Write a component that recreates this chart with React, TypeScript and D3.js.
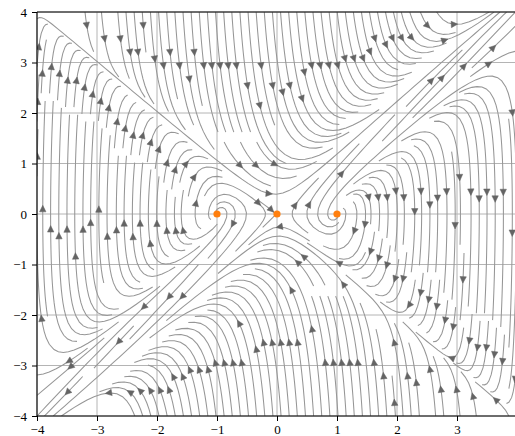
import { useEffect, useRef } from 'react';
import * as d3 from 'd3';

// axis ranges and ticks
const xDomain = [-4, 4];
const yDomain = [-4, 4];
const xTickValues = [-4, -3, -2, -1, 0, 1, 2, 3];
const xTickLabels = ['−4', '−3', '−2', '−1', '0', '1', '2', '3'];
const yTickValues = [-4, -3, -2, -1, 0, 1, 2, 3, 4];
const yTickLabels = ['−4', '−3', '−2', '−1', '0', '1', '2', '3', '4'];

// equilibria of the system
const fixedX = [-1, 0, 1];
const fixedY = [0, 0, 0];

// vector field as polynomial terms: [coefficient, power of x, power of y]
const dxTerms = [[1, 0, 1]];
const dyTerms = [[1, 1, 0], [-1, 3, 0], [0.25, 0, 1], [1, 2, 1], [1, 1, 2], [-1, 0, 3]];

const density = 2;
const gridSize = 100;
const minLength = 0.1;
const maxLength = 4.0;

const W = 515;
const H = 436;

const evalTerms = (terms: number[][], x: number, y: number) =>
  terms.reduce((acc, [c, px, py]) => acc + c * x ** px * y ** py, 0);

type Pt = [number, number];
interface Stream {
  pts: Pt[];
  tail: Pt;
  head: Pt;
}

// port of matplotlib's streamplot integration
function computeStreams(): Stream[] {
  const nx = gridSize;
  const ny = gridSize;
  const gx = d3.range(nx).map((i) => xDomain[0] + ((xDomain[1] - xDomain[0]) * i) / (nx - 1));
  const gy = d3.range(ny).map((j) => yDomain[0] + ((yDomain[1] - yDomain[0]) * j) / (ny - 1));
  const dxg = gx[1] - gx[0];
  const dyg = gy[1] - gy[0];

  const U = new Float64Array(nx * ny);
  const V = new Float64Array(nx * ny);
  const S = new Float64Array(nx * ny);
  for (let j = 0; j < ny; j++) {
    for (let i = 0; i < nx; i++) {
      const k = j * nx + i;
      const u = evalTerms(dxTerms, gx[i], gy[j]) / dxg;
      const v = evalTerms(dyTerms, gx[i], gy[j]) / dyg;
      U[k] = u;
      V[k] = v;
      S[k] = Math.hypot(u / (nx - 1), v / (ny - 1));
    }
  }

  const mnx = Math.floor(30 * density);
  const mny = mnx;
  const mask = new Uint8Array(mnx * mny);
  const xg2m = (mnx - 1) / (nx - 1);
  const yg2m = (mny - 1) / (ny - 1);
  let traj: number[] = [];
  let curX = -1;
  let curY = -1;

  const within = (xi: number, yi: number) => xi >= 0 && xi <= nx - 1 && yi >= 0 && yi <= ny - 1;

  const interp = (a: Float64Array, xi: number, yi: number) => {
    const x = Math.floor(xi);
    const y = Math.floor(yi);
    const xn = Math.min(x + 1, nx - 1);
    const yn = Math.min(y + 1, ny - 1);
    const xt = xi - x;
    const yt = yi - y;
    const a0 = a[y * nx + x] * (1 - xt) + a[y * nx + xn] * xt;
    const a1 = a[yn * nx + x] * (1 - xt) + a[yn * nx + xn] * xt;
    return a0 * (1 - yt) + a1 * yt;
  };

  const field = (xi: number, yi: number, sign: number): Pt | 'out' | 'stop' => {
    if (!within(xi, yi)) return 'out';
    const s = interp(S, xi, yi);
    if (s === 0) return 'stop';
    return [(sign * interp(U, xi, yi)) / s, (sign * interp(V, xi, yi)) / s];
  };

  const update = (xi: number, yi: number) => {
    if (!within(xi, yi)) return false;
    const xm = Math.round(xi * xg2m);
    const ym = Math.round(yi * yg2m);
    if (xm !== curX || ym !== curY) {
      const k = ym * mnx + xm;
      if (mask[k] !== 0) return false;
      traj.push(k);
      mask[k] = 1;
      curX = xm;
      curY = ym;
    }
    return true;
  };

  const euler = (pts: Pt[], sign: number) => {
    const [xi, yi] = pts[pts.length - 1];
    const c = field(xi, yi, sign);
    if (typeof c === 'string') return 0;
    const [cx, cy] = c;
    const dsx = cx === 0 ? Infinity : cx < 0 ? xi / -cx : (nx - 1 - xi) / cx;
    const dsy = cy === 0 ? Infinity : cy < 0 ? yi / -cy : (ny - 1 - yi) / cy;
    const ds = Math.min(dsx, dsy);
    pts.push([xi + cx * ds, yi + cy * ds]);
    return ds;
  };

  const rk12 = (x0: number, y0: number, sign: number) => {
    const maxerror = 0.003;
    const maxds = Math.min(1 / mnx, 1 / mny, 0.1);
    let ds = maxds;
    let stotal = 0;
    let xi = x0;
    let yi = y0;
    const pts: Pt[] = [];
    for (let iter = 0; iter < 20000; iter++) {
      if (!within(xi, yi)) {
        if (pts.length) stotal += euler(pts, sign);
        break;
      }
      pts.push([xi, yi]);
      const k1 = field(xi, yi, sign);
      if (typeof k1 === 'string') break;
      const k2 = field(xi + ds * k1[0], yi + ds * k1[1], sign);
      if (k2 === 'out') {
        stotal += euler(pts, sign);
        break;
      }
      if (k2 === 'stop') break;
      const dx1 = ds * k1[0];
      const dy1 = ds * k1[1];
      const dx2 = ds * 0.5 * (k1[0] + k2[0]);
      const dy2 = ds * 0.5 * (k1[1] + k2[1]);
      const error = Math.hypot((dx2 - dx1) / (nx - 1), (dy2 - dy1) / (ny - 1));
      if (error < maxerror) {
        xi += dx2;
        yi += dy2;
        if (!update(xi, yi)) break;
        if (stotal + ds > maxLength) break;
        stotal += ds;
      }
      ds = error === 0 ? maxds : Math.min(maxds, 0.85 * ds * Math.sqrt(maxerror / error));
    }
    return { s: stotal, pts };
  };

  const integrate = (x0: number, y0: number): Pt[] | null => {
    traj = [];
    curX = -1;
    curY = -1;
    if (!update(x0, y0)) return null;
    const xm = curX;
    const ym = curY;
    const back = rk12(x0, y0, -1);
    curX = xm;
    curY = ym;
    const fwd = rk12(x0, y0, 1);
    const total = back.s + fwd.s;
    if (total > minLength) {
      return [...back.pts.reverse(), ...fwd.pts.slice(1)];
    }
    traj.forEach((k) => (mask[k] = 0));
    return null;
  };

  // spiral of starting points, from the border inward
  const starts: Pt[] = [];
  {
    let xfirst = 0;
    let yfirst = 1;
    let xlast = mnx - 1;
    let ylast = mny - 1;
    let x = 0;
    let y = 0;
    let dir = 'right';
    for (let i = 0; i < mnx * mny; i++) {
      starts.push([x, y]);
      if (dir === 'right') {
        x += 1;
        if (x >= xlast) { xlast -= 1; dir = 'up'; }
      } else if (dir === 'up') {
        y += 1;
        if (y >= ylast) { ylast -= 1; dir = 'left'; }
      } else if (dir === 'left') {
        x -= 1;
        if (x <= xfirst) { xfirst += 1; dir = 'down'; }
      } else {
        y -= 1;
        if (y <= yfirst) { yfirst += 1; dir = 'right'; }
      }
    }
  }

  const out: Stream[] = [];
  for (const [xm, ym] of starts) {
    if (mask[ym * mnx + xm] !== 0) continue;
    const t = integrate(xm / xg2m, ym / yg2m);
    if (!t || t.length < 2) continue;
    const pts: Pt[] = t.map(([a, b]) => [xDomain[0] + a * dxg, yDomain[0] + b * dyg]);
    const s: number[] = [];
    let acc = 0;
    for (let i = 1; i < pts.length; i++) {
      acc += Math.hypot(pts[i][0] - pts[i - 1][0], pts[i][1] - pts[i - 1][1]);
      s.push(acc);
    }
    const half = acc / 2;
    let n = d3.bisectLeft(s, half);
    n = Math.min(n, pts.length - 2);
    const tail = pts[n];
    const head: Pt = [(pts[n][0] + pts[n + 1][0]) / 2, (pts[n][1] + pts[n + 1][1]) / 2];
    out.push({ pts, tail, head });
  }
  return out;
}

export default function App() {
  const svgRef = useRef<SVGSVGElement>(null);

  useEffect(() => {
    if (!svgRef.current) return;
    const svg = d3.select(svgRef.current);
    svg.selectAll('*').remove();

    const x = d3.scaleLinear().domain(xDomain).range([37, 517]);
    const y = d3.scaleLinear().domain(yDomain).range([416, 12]);

    const clip = svg.append('clipPath').attr('id', 'plot-clip');
    clip.append('rect').attr('x', 37).attr('y', 12).attr('width', 480).attr('height', 404);

    // grid
    const grid = svg.append('g').attr('stroke', '#b4b4b4').attr('stroke-width', 1);
    xTickValues.forEach((v) => {
      grid.append('line').attr('x1', x(v)).attr('x2', x(v)).attr('y1', 12).attr('y2', 416);
    });
    yTickValues.forEach((v) => {
      grid.append('line').attr('x1', 37).attr('x2', 517).attr('y1', y(v)).attr('y2', y(v));
    });

    const streams = computeStreams();
    const plot = svg.append('g').attr('clip-path', 'url(#plot-clip)');
    const line = d3
      .line<Pt>()
      .x((d) => x(d[0]))
      .y((d) => y(d[1]));

    plot
      .append('g')
      .selectAll('path')
      .data(streams)
      .join('path')
      .attr('d', (d) => line(d.pts))
      .attr('fill', 'none')
      .attr('stroke', '#969696')
      .attr('stroke-width', 1.05);

    // arrow heads
    plot
      .append('g')
      .selectAll('path')
      .data(streams)
      .join('path')
      .attr('d', (d) => {
        const hx = x(d.head[0]);
        const hy = y(d.head[1]);
        let ux = hx - x(d.tail[0]);
        let uy = hy - y(d.tail[1]);
        const len = Math.hypot(ux, uy) || 1;
        ux /= len;
        uy /= len;
        const L = 6.5;
        const hw = 3.2;
        const bx = hx - ux * L;
        const by = hy - uy * L;
        return `M${hx},${hy}L${bx - uy * hw},${by + ux * hw}L${bx + uy * hw},${by - ux * hw}Z`;
      })
      .attr('fill', '#646464')
      .attr('stroke', '#646464')
      .attr('stroke-width', 0.5);

    // equilibria
    svg
      .append('g')
      .selectAll('circle')
      .data(fixedX)
      .join('circle')
      .attr('cx', (d) => x(d))
      .attr('cy', (_, i) => y(fixedY[i]))
      .attr('r', 3.6)
      .attr('fill', '#ff7f0e');

    // spines
    const spines = svg.append('g').attr('stroke', '#000').attr('stroke-width', 1.1);
    spines.append('line').attr('x1', 37).attr('x2', 37).attr('y1', 12).attr('y2', 416);
    spines.append('line').attr('x1', 37).attr('x2', 517).attr('y1', 416).attr('y2', 416);
    spines.append('line').attr('x1', 37).attr('x2', 517).attr('y1', 12).attr('y2', 12);

    const minor = d3.range(-20, 21).map((i) => i / 5);

    // x axis
    const gx = svg.append('g').attr('transform', 'translate(0,416)');
    gx.call(
      d3.axisBottom(x).tickValues(minor).tickSize(3).tickSizeOuter(0).tickFormat(() => '')
    );
    gx.call(
      d3
        .axisBottom(x)
        .tickValues(xTickValues)
        .tickSize(5)
        .tickSizeOuter(0)
        .tickPadding(4)
        .tickFormat((_, i) => xTickLabels[i])
    );
    gx.selectAll('.domain').remove();

    // y axis
    const gy = svg.append('g').attr('transform', 'translate(37,0)');
    gy.call(d3.axisLeft(y).tickValues(minor).tickSize(3).tickSizeOuter(0).tickFormat(() => ''));
    gy.call(
      d3
        .axisLeft(y)
        .tickValues(yTickValues)
        .tickSize(5)
        .tickSizeOuter(0)
        .tickPadding(5)
        .tickFormat((_, i) => yTickLabels[i])
    );
    gy.selectAll('.domain').remove();

    svg
      .selectAll('.tick text')
      .attr('font-family', '"Liberation Serif", "DejaVu Serif", serif')
      .attr('font-size', 13)
      .attr('fill', '#000');
    svg.selectAll('.tick line').attr('stroke', '#000').attr('stroke-width', 1);
  }, []);

  return (
    <div style={{ position: 'absolute', left: 0, top: 0, width: W, height: H, background: '#fff' }}>
      <svg ref={svgRef} width={W} height={H} style={{ display: 'block' }} />
    </div>
  );
}
